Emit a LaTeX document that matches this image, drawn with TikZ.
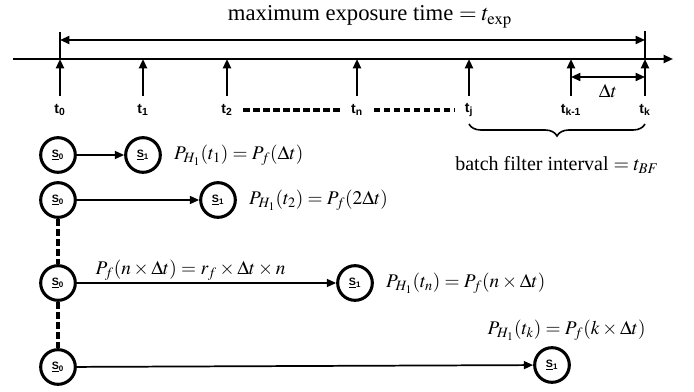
\documentclass[tikz,border=0pt]{standalone}
\usepackage{mathptmx}
\usepackage{fontspec}
\setmainfont{Liberation Serif}
\setsansfont{Liberation Sans}
\usepackage{tikz}
\usetikzlibrary{arrows.meta,positioning,decorations.pathreplacing}

\begin{document}
\begin{tikzpicture}[
  x=0.75pt, y=-0.75pt,
  state/.style={circle, draw, line width=2.3pt, minimum size=26pt, inner sep=0pt, font=\sffamily\bfseries\fontsize{8}{9}\selectfont},
  tlab/.style={font=\sffamily\bfseries\fontsize{10.5}{12}\selectfont, inner sep=1pt},
  mlab/.style={font=\fontsize{14.5}{17}\selectfont, inner sep=1pt},
  arr/.style={-{Triangle[length=7pt,width=6pt]}, line width=1.3pt},
  darr/.style={{Triangle[length=7pt,width=6pt]}-{Triangle[length=7pt,width=6pt]}, line width=1.3pt},
  tickarr/.style={-{Triangle[length=7pt,width=6pt]}, line width=1.5pt},
  dashline/.style={line width=2.3pt, dash pattern=on 5pt off 2.5pt}
]
\useasboundingbox (0,0) rectangle (694,392);

% time axis
\coordinate (axL) at (13,59);
\coordinate (axR) at (673,59);
\draw[arr, line width=1.5pt] (axL) -- (axR);

\node[font=\fontsize{17}{20}\selectfont] (title) at (370,17) {maximum exposure time $=t_{\mathrm{exp}}$};

% ticks and labels
\foreach \x/\n/\txt in {60/0/0, 143/1/1, 227/2/2, 357/n/n, 469/j/j, 571/km/k-1, 645/k/k}{
  \coordinate (b\n) at (\x,96);
  \coordinate (a\n) at (\x,59);
  \draw[tickarr] (b\n) -- (a\n);
  \node[tlab] (l\n) at (\x,110) {t\textsubscript{\txt}};
}
\draw[dashline, shorten <=7pt, shorten >=7pt] (l2.east) -- (ln.west);
\draw[dashline, shorten <=7pt, shorten >=7pt] (ln.east) -- (lj.west);

% exposure span
\coordinate (e0) at (60,32);
\coordinate (ek) at (645,31);
\draw[line width=1.3pt] (e0) -- (a0);
\draw[line width=1.3pt] (ek) -- (ak);
\draw[darr] (60,40) -- (645,40);

% delta t
\draw[darr] (571,77) -- (645,77);
\node[mlab] (dt) at (608,91) {$\Delta t$};

% batch filter interval
\coordinate (bj) at (469,124);
\coordinate (bk) at (645,124);
\draw[line width=1.2pt, decorate, decoration={brace, amplitude=9pt}] (bk) -- (bj);
\node[font=\fontsize{15}{17}\selectfont] (bf) at (557,165) {batch filter interval $=t_{BF}$};

% state transitions
\node[state] (r1s0) at (58,155) {\underline{S}\textsubscript{0}};
\node[state] (r1s1) at (143,155) {\underline{S}\textsubscript{1}};
\node[state] (r2s0) at (58,200) {\underline{S}\textsubscript{0}};
\node[state] (r2s1) at (218,200) {\underline{S}\textsubscript{1}};
\node[state] (r3s0) at (58,283) {\underline{S}\textsubscript{0}};
\node[state] (r3s1) at (355,283) {\underline{S}\textsubscript{1}};
\node[state] (r4s0) at (58,367) {\underline{S}\textsubscript{0}};
\node[state] (r4s1) at (552,365) {\underline{S}\textsubscript{1}};

\draw[arr] (r1s0) -- (r1s1);
\draw[arr] (r2s0) -- (r2s1);
\draw[arr] (r3s0) -- node[mlab, above=0pt, xshift=-12pt] {$P_f(n\times\Delta t)=r_f\times\Delta t\times n$} (r3s1);
\draw[arr] (r4s0) -- (r4s1);
\draw[dashline] (r2s0) -- (r3s0);
\draw[dashline] (r3s0) -- (r4s0);

\node[mlab, right=8pt of r1s1] (p1) {$P_{H_1}(t_1)=P_f(\Delta t)$};
\node[mlab, right=8pt of r2s1] (p2) {$P_{H_1}(t_2)=P_f(2\Delta t)$};
\node[mlab, right=8pt of r3s1] (pn) {$P_{H_1}(t_n)=P_f(n\times\Delta t)$};
\node[mlab, above=3pt of r4s1, xshift=11pt] (pk) {$P_{H_1}(t_k)=P_f(k\times\Delta t)$};
\end{tikzpicture}
\end{document}
